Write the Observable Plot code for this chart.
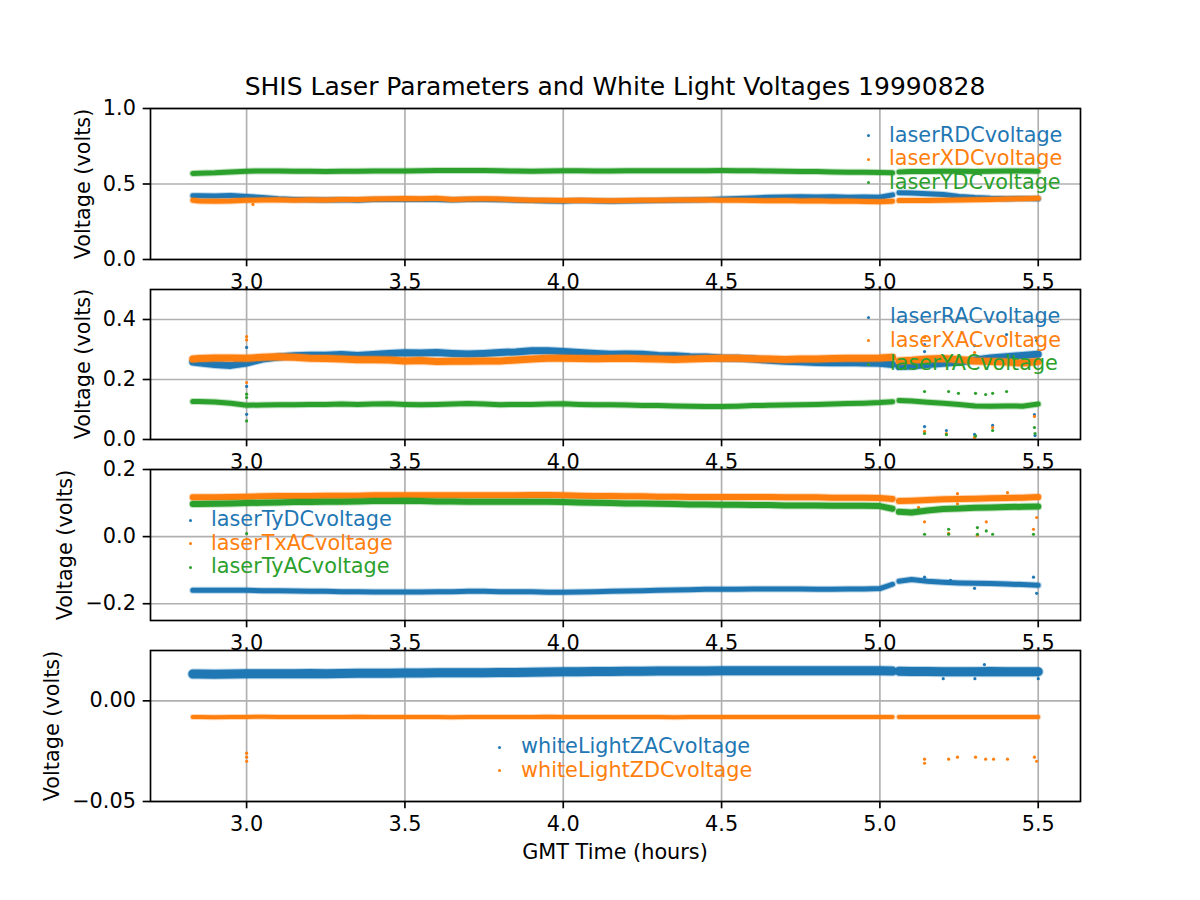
<!DOCTYPE html>
<html>
<head>
<meta charset="utf-8">
<script src="https://cdn.jsdelivr.net/npm/d3@7"></script>
<script src="https://cdn.jsdelivr.net/npm/@observablehq/plot@0.6"></script>
<style>
  html, body { margin: 0; padding: 0; background: #fff; }
  #fig { position: relative; width: 1200px; height: 900px; background: #fff; overflow: hidden;
         font-family: "DejaVu Sans", sans-serif; color: #000; }
  .abs { position: absolute; white-space: nowrap; }
  .title { left: 150px; width: 930px; text-align: center; font-size: 25px; line-height: 25px; top: 74px; }
  .xlabel { left: 150px; width: 930px; text-align: center; font-size: 20.8px; line-height: 20.8px; top: 842px; }
  .ylabel { font-size: 20.8px; transform: translate(-50%, -50%) rotate(-90deg); line-height: 24px; }
  .leg { font-size: 20.8px; line-height: 23.5px; }
  .leg .mk { position: absolute; width: 3px; height: 3px; border-radius: 50%; }
</style>
</head>
<body>
<div id="fig"></div>
<script>
// ---------- data ----------
const T = [
  2.83, 2.85, 2.90, 2.95, 3.00, 3.05, 3.10, 3.15, 3.20, 3.25,
  3.30, 3.35, 3.40, 3.45, 3.50, 3.55, 3.60, 3.65, 3.70, 3.75,
  3.80, 3.85, 3.90, 3.95, 4.00, 4.05, 4.10, 4.15, 4.20, 4.25,
  4.30, 4.35, 4.40, 4.45, 4.50, 4.55, 4.60, 4.65, 4.70, 4.75,
  4.80, 4.85, 4.90, 4.95, 5.00, 5.04, 5.05, 5.06, 5.10, 5.15,
  5.20, 5.25, 5.30, 5.35, 5.40, 5.45, 5.50
];

const laserRDCvoltage = [
  0.423, 0.422, 0.420, 0.424, 0.418, 0.410, 0.402, 0.398, 0.396, 0.394,
  0.395, 0.393, 0.397, 0.398, 0.399, 0.397, 0.398, 0.394, 0.397, 0.397,
  0.396, 0.392, 0.390, 0.388, 0.386, 0.390, 0.388, 0.386, 0.388, 0.389,
  0.391, 0.393, 0.394, 0.396, 0.400, 0.404, 0.408, 0.412, 0.414, 0.415,
  0.414, 0.416, 0.413, 0.414, 0.412, 0.428, null, 0.442, 0.440, 0.436,
  0.430, 0.418, 0.410, 0.405, 0.403, 0.404, 0.402
];
const laserXDCvoltage = [
  0.392, 0.388, 0.385, 0.387, 0.392, 0.394, 0.395, 0.393, 0.396, 0.394,
  0.397, 0.398, 0.401, 0.402, 0.404, 0.403, 0.405, 0.398, 0.401, 0.402,
  0.401, 0.396, 0.393, 0.392, 0.390, 0.393, 0.390, 0.389, 0.391, 0.392,
  0.393, 0.394, 0.394, 0.395, 0.393, 0.392, 0.390, 0.389, 0.390, 0.388,
  0.389, 0.386, 0.387, 0.384, 0.382, 0.386, null, 0.390, 0.391, 0.390,
  0.393, 0.394, 0.396, 0.398, 0.400, 0.403, 0.405
];
const laserYDCvoltage = [
  0.570, 0.571, 0.574, 0.580, 0.585, 0.586, 0.586, 0.584, 0.585, 0.582,
  0.584, 0.585, 0.586, 0.586, 0.586, 0.588, 0.589, 0.590, 0.590, 0.589,
  0.587, 0.586, 0.585, 0.586, 0.587, 0.587, 0.586, 0.586, 0.587, 0.588,
  0.588, 0.588, 0.588, 0.588, 0.589, 0.588, 0.587, 0.586, 0.585, 0.583,
  0.582, 0.580, 0.578, 0.577, 0.576, 0.574, null, 0.580, 0.582, 0.583,
  0.584, 0.584, 0.583, 0.585, 0.586, 0.586, 0.585
];

const laserRACvoltage = [
  0.258, 0.256, 0.250, 0.247, 0.255, 0.268, 0.275, 0.279, 0.281, 0.281,
  0.283, 0.280, 0.283, 0.287, 0.289, 0.288, 0.290, 0.287, 0.285, 0.287,
  0.290, 0.292, 0.296, 0.296, 0.293, 0.290, 0.287, 0.284, 0.285, 0.284,
  0.280, 0.279, 0.276, 0.275, 0.272, 0.271, 0.268, 0.264, 0.261, 0.259,
  0.257, 0.256, 0.257, 0.255, 0.254, 0.250, null, 0.243, 0.245, 0.250,
  0.254, 0.258, 0.265, 0.272, 0.276, 0.280, 0.284
];
const laserXACvoltage = [
  0.268, 0.270, 0.272, 0.272, 0.271, 0.274, 0.276, 0.274, 0.271, 0.270,
  0.268, 0.266, 0.266, 0.265, 0.262, 0.263, 0.260, 0.261, 0.261, 0.262,
  0.262, 0.265, 0.268, 0.271, 0.271, 0.270, 0.269, 0.270, 0.271, 0.269,
  0.268, 0.267, 0.268, 0.270, 0.271, 0.271, 0.269, 0.268, 0.267, 0.268,
  0.268, 0.270, 0.271, 0.271, 0.272, 0.274, null, 0.262, 0.264, 0.268,
  0.270, 0.267, 0.262, 0.260, 0.258, 0.255, 0.260
];
const laserYACvoltage = [
  0.127, 0.127, 0.125, 0.121, 0.114, 0.115, 0.116, 0.116, 0.117, 0.117,
  0.118, 0.117, 0.118, 0.119, 0.117, 0.116, 0.117, 0.118, 0.120, 0.118,
  0.116, 0.117, 0.117, 0.118, 0.119, 0.117, 0.116, 0.116, 0.115, 0.113,
  0.113, 0.112, 0.111, 0.110, 0.110, 0.111, 0.113, 0.114, 0.115, 0.116,
  0.117, 0.118, 0.120, 0.121, 0.123, 0.126, null, 0.130, 0.128, 0.124,
  0.121, 0.117, 0.112, 0.111, 0.112, 0.111, 0.118
];

const laserTyDCvoltage = [
  -0.160, -0.160, -0.160, -0.160, -0.160, -0.161, -0.161, -0.162, -0.163, -0.163,
  -0.164, -0.164, -0.165, -0.165, -0.165, -0.165, -0.164, -0.164, -0.163, -0.163,
  -0.164, -0.164, -0.164, -0.166, -0.166, -0.165, -0.164, -0.163, -0.162, -0.161,
  -0.160, -0.159, -0.158, -0.157, -0.157, -0.157, -0.156, -0.156, -0.156, -0.156,
  -0.157, -0.157, -0.156, -0.156, -0.155, -0.142, null, -0.133, -0.128, -0.133,
  -0.136, -0.138, -0.139, -0.140, -0.141, -0.143, -0.145
];
const laserTxACvoltage = [
  0.117, 0.117, 0.117, 0.118, 0.119, 0.120, 0.121, 0.121, 0.121, 0.122,
  0.122, 0.122, 0.123, 0.123, 0.123, 0.123, 0.123, 0.123, 0.123, 0.123,
  0.123, 0.123, 0.124, 0.124, 0.123, 0.122, 0.121, 0.121, 0.120, 0.120,
  0.119, 0.119, 0.118, 0.118, 0.118, 0.118, 0.118, 0.118, 0.117, 0.117,
  0.117, 0.116, 0.116, 0.116, 0.115, 0.112, null, 0.106, 0.107, 0.109,
  0.111, 0.112, 0.113, 0.114, 0.115, 0.116, 0.118
];
const laserTyACvoltage = [
  0.097, 0.097, 0.098, 0.099, 0.100, 0.101, 0.102, 0.103, 0.103, 0.104,
  0.104, 0.105, 0.106, 0.106, 0.107, 0.106, 0.105, 0.105, 0.104, 0.104,
  0.104, 0.104, 0.104, 0.104, 0.103, 0.102, 0.101, 0.100, 0.099, 0.099,
  0.098, 0.097, 0.096, 0.096, 0.095, 0.095, 0.094, 0.094, 0.093, 0.093,
  0.093, 0.092, 0.092, 0.092, 0.091, 0.083, null, 0.074, 0.072, 0.078,
  0.082, 0.084, 0.086, 0.087, 0.088, 0.089, 0.090
];

const whiteLightZACvoltage = [
  0.0133, 0.0133, 0.0132, 0.0133, 0.0134, 0.0134, 0.0135, 0.0135, 0.0136, 0.0135,
  0.0136, 0.0137, 0.0137, 0.0137, 0.0138, 0.0138, 0.0139, 0.0139, 0.0140, 0.0140,
  0.0141, 0.0141, 0.0142, 0.0143, 0.0144, 0.0145, 0.0146, 0.0146, 0.0147, 0.0147,
  0.0148, 0.0148, 0.0148, 0.0148, 0.0149, 0.0149, 0.0149, 0.0149, 0.0149, 0.0149,
  0.0149, 0.0149, 0.0149, 0.0149, 0.0149, 0.0148, null, 0.0147, 0.0146, 0.0146,
  0.0145, 0.0145, 0.0145, 0.0146, 0.0145, 0.0145, 0.0145
];
const whiteLightZDCvoltage = [
  -0.0080, -0.0080, -0.0081, -0.0080, -0.0080, -0.0079, -0.0080, -0.0080, -0.0080, -0.0080,
  -0.0080, -0.0079, -0.0080, -0.0080, -0.0080, -0.0080, -0.0080, -0.0081, -0.0080, -0.0080,
  -0.0080, -0.0080, -0.0080, -0.0079, -0.0080, -0.0080, -0.0080, -0.0080, -0.0080, -0.0080,
  -0.0080, -0.0081, -0.0080, -0.0080, -0.0080, -0.0080, -0.0080, -0.0080, -0.0080, -0.0080,
  -0.0080, -0.0080, -0.0080, -0.0080, -0.0080, -0.0080, null, -0.0080, -0.0080, -0.0080,
  -0.0080, -0.0080, -0.0080, -0.0080, -0.0080, -0.0080, -0.0080
];

// isolated spikes (time, value, series index within panel)
const out1T = [3.02];
const out1V = [0.365];
const out1S = [1];

const out2T = [3.00, 3.00, 3.00, 3.00, 3.00, 3.00, 3.00, 3.00, 3.00,
  5.141, 5.141, 5.141, 5.141, 5.141, 5.141, 5.141, 5.21, 5.21, 5.21, 5.217, 5.248,
  5.299, 5.299, 5.299, 5.299, 5.302, 5.302, 5.334, 5.356, 5.356, 5.356, 5.356,
  5.40, 5.40, 5.488, 5.488, 5.488, 5.49, 5.49, 5.492, 5.495];
const out2V = [0.343, 0.332, 0.307, 0.190, 0.177, 0.084, 0.151, 0.140, 0.062,
  0.316, 0.293, 0.340, 0.160, 0.043, 0.027, 0.020, 0.030, 0.020, 0.016, 0.160, 0.154,
  0.313, 0.290, 0.017, 0.007, 0.154, 0.012, 0.150, 0.154, 0.047, 0.040, 0.030,
  0.350, 0.160, 0.083, 0.077, 0.040, 0.013, 0.020, 0.340, 0.330];
const out2S = [1, 1, 0, 1, 0, 0, 2, 2, 2,
  0, 0, 1, 2, 0, 1, 2, 0, 1, 2, 2, 2,
  0, 1, 0, 1, 2, 2, 2, 2, 0, 1, 2,
  0, 2, 0, 1, 2, 0, 2, 1, 0];

const out3T = [3.00, 5.141, 5.141, 5.141, 5.122, 5.217, 5.217, 5.217, 5.223, 5.245, 5.245,
  5.308, 5.308, 5.308, 5.299, 5.336, 5.336, 5.356, 5.403, 5.485, 5.485, 5.485, 5.495, 5.495];
const out3V = [0.009, 0.044, 0.007, -0.121, 0.087, 0.022, 0.007, 0.010, -0.130, 0.128, 0.098,
  0.027, 0.007, 0.004, -0.154, 0.044, 0.017, 0.007, 0.131, -0.121, 0.007, 0.022, -0.169, 0.057];
const out3S = [2, 1, 2, 0, 1, 2, 2, 1, 0, 1, 1,
  2, 2, 1, 0, 1, 2, 2, 1, 0, 2, 1, 0, 1];

const out4T = [3.00, 3.00, 3.00, 5.141, 5.141, 5.217, 5.245, 5.302, 5.334, 5.359, 5.403, 5.488, 5.495,
  5.20, 5.30, 5.33, 5.50];
const out4V = [-0.026, -0.028, -0.030, -0.029, -0.031, -0.029, -0.028, -0.028, -0.029, -0.029, -0.029, -0.028, -0.030,
  0.011, 0.011, 0.018, 0.011];
const out4S = [1, 1, 1, 1, 1, 1, 1, 1, 1, 1, 1, 1, 1, 0, 0, 0, 0];

const xTicks = [3.0, 3.5, 4.0, 4.5, 5.0, 5.5];
const yTicks1 = [0.0, 0.5, 1.0];
const yTicks2 = [0.0, 0.2, 0.4];
const yTicks3 = [-0.2, 0.0, 0.2];
const yTicks4 = [-0.05, 0.00];

const titleText = "SHIS Laser Parameters and White Light Voltages 19990828";
const xLabelText = "GMT Time (hours)";
const yLabelText = "Voltage (volts)";
const names1 = ["laserRDCvoltage", "laserXDCvoltage", "laserYDCvoltage"];
const names2 = ["laserRACvoltage", "laserXACvoltage", "laserYACvoltage"];
const names3 = ["laserTyDCvoltage", "laserTxACvoltage", "laserTyACvoltage"];
const names4 = ["whiteLightZACvoltage", "whiteLightZDCvoltage"];

// ---------- drawing ----------
const colors = ["#1f77b4", "#ff7f0e", "#2ca02c"];
const fig = document.getElementById("fig");
const [t0, t1] = d3.extent(T);
const pad = (t1 - t0) * 0.05;
const xDomain = [t0 - pad, t1 + pad];
const MT = 20, MB = 50;

function rows(vals) { return T.map((time, i) => ({time, v: vals[i]})); }

function panel(cfg) {
  const marks = [
    Plot.gridX({ticks: xTicks, stroke: "#b0b0b0", strokeOpacity: 1, strokeWidth: 1.67}),
    Plot.gridY({ticks: cfg.yTicks, stroke: "#b0b0b0", strokeOpacity: 1, strokeWidth: 1.67})
  ];
  const outs = cfg.oT.map((time, i) => ({time, v: cfg.oV[i], s: cfg.oS[i]}));
  cfg.series.forEach((s, k) => {
    const d = rows(s.values);
    marks.push(Plot.line(d, {x: "time", y: "v", stroke: colors[k], strokeWidth: s.w + 2, strokeOpacity: 0.3, clip: true}));
    marks.push(Plot.line(d, {x: "time", y: "v", stroke: colors[k], strokeWidth: s.w, clip: true}));
    marks.push(Plot.dot(outs.filter(o => o.s === k), {x: "time", y: "v", fill: colors[k], r: 1.6, clip: true}));
  });
  marks.push(
    Plot.axisX({ticks: xTicks, tickFormat: d3.format(".1f"), tickSize: 7.3, tickPadding: 7, strokeWidth: 1.67, label: null, fontSize: 20.8}),
    Plot.axisY({ticks: cfg.yTicks, tickFormat: d3.format(cfg.yFmt), tickSize: 7.3, tickPadding: 7.3, strokeWidth: 1.67, label: null, fontSize: 20.8}),
    Plot.frame({stroke: "#000", strokeWidth: 1.67})
  );
  const svg = Plot.plot({
    width: 1200,
    height: cfg.h + MT + MB,
    marginLeft: 150, marginRight: 120, marginTop: MT, marginBottom: MB,
    x: {domain: xDomain},
    y: {domain: cfg.yDomain},
    style: {fontFamily: "DejaVu Sans", fontSize: "20.8px", color: "#000", background: "transparent", overflow: "visible"},
    marks
  });
  svg.style.position = "absolute";
  svg.style.left = "0px";
  svg.style.top = (cfg.top - MT) + "px";
  fig.appendChild(svg);

  // y label
  const yl = document.createElement("div");
  yl.className = "abs ylabel";
  yl.textContent = yLabelText;
  yl.style.left = cfg.ylx + "px";
  yl.style.top = (cfg.top + cfg.h / 2) + "px";
  fig.appendChild(yl);

  // legend
  cfg.names.forEach((name, k) => {
    const row = document.createElement("div");
    row.className = "abs leg";
    row.style.left = cfg.leg.tx + "px";
    row.style.top = (cfg.leg.y0 + k * 23.5 - 11.75) + "px";
    row.style.color = colors[k];
    row.textContent = name;
    const mk = document.createElement("span");
    mk.className = "mk";
    mk.style.background = colors[k];
    mk.style.left = (cfg.leg.mx - cfg.leg.tx - 1.5) + "px";
    mk.style.top = "10.5px";
    row.appendChild(mk);
    fig.appendChild(row);
  });
}

panel({top: 108, h: 151, yDomain: [0, 1], yTicks: yTicks1, yFmt: ".1f", ylx: 83,
  series: [{values: laserRDCvoltage, w: 5}, {values: laserXDCvoltage, w: 5}, {values: laserYDCvoltage, w: 5}],
  oT: out1T, oV: out1V, oS: out1S, names: names1, leg: {mx: 868, tx: 889, y0: 135.5}});

panel({top: 289, h: 150, yDomain: [0, 0.5], yTicks: yTicks2, yFmt: ".1f", ylx: 83,
  series: [{values: laserRACvoltage, w: 7}, {values: laserXACvoltage, w: 7}, {values: laserYACvoltage, w: 5}],
  oT: out2T, oV: out2V, oS: out2S, names: names2, leg: {mx: 868, tx: 890, y0: 317}});

panel({top: 469, h: 151, yDomain: [-0.25, 0.2], yTicks: yTicks3, yFmt: ".1f", ylx: 65,
  series: [{values: laserTyDCvoltage, w: 5}, {values: laserTxACvoltage, w: 6}, {values: laserTyACvoltage, w: 6}],
  oT: out3T, oV: out3V, oS: out3S, names: names3, leg: {mx: 190, tx: 211, y0: 520}});

panel({top: 650, h: 151, yDomain: [-0.05, 0.025], yTicks: yTicks4, yFmt: ".2f", ylx: 52,
  series: [{values: whiteLightZACvoltage, w: 9}, {values: whiteLightZDCvoltage, w: 4}],
  oT: out4T, oV: out4V, oS: out4S, names: names4, leg: {mx: 499, tx: 521, y0: 747}});

const title = document.createElement("div");
title.className = "abs title";
title.textContent = titleText;
fig.appendChild(title);

const xl = document.createElement("div");
xl.className = "abs xlabel";
xl.textContent = xLabelText;
fig.appendChild(xl);
</script>
</body>
</html>
